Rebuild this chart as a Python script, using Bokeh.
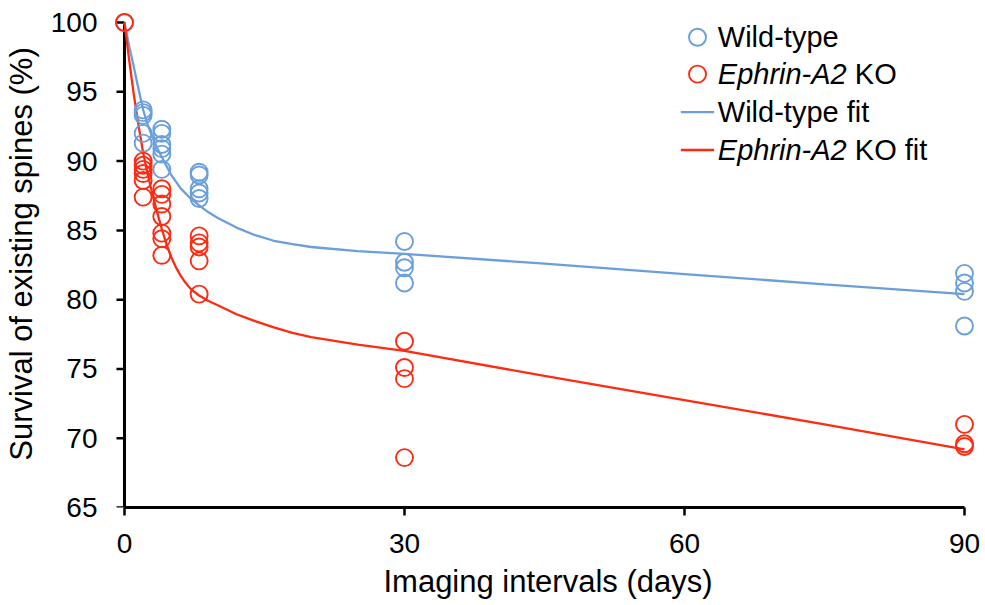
from bokeh.plotting import figure
from bokeh.models import Range1d, Label, FixedTicker
from bokeh.embed import file_html
from bokeh.resources import INLINE

# ---------------- data ----------------
wt_x = [0, 2, 2, 2, 2, 2, 4, 4, 4, 4, 4, 4, 8, 8, 8, 8, 8, 30, 30, 30, 30, 90, 90, 90, 90]
wt_y = [100, 93.7, 93.5, 93.3, 92.0, 91.3, 92.3, 92.0, 91.2, 90.9, 90.5, 89.4,
        89.2, 89.0, 88.0, 87.7, 87.3, 84.2, 82.7, 82.3, 81.2, 81.9, 81.2, 80.6, 78.1]

ko_x = [0, 2, 2, 2, 2, 2, 2, 4, 4, 4, 4, 4, 4, 4, 8, 8, 8, 8, 8, 30, 30, 30, 30, 90, 90, 90]
ko_y = [100, 90.0, 89.7, 89.4, 89.1, 88.6, 87.4, 88.0, 87.6, 86.9, 86.0, 84.8, 84.4, 83.2,
        84.6, 84.1, 83.8, 82.8, 80.4, 77.0, 75.1, 74.3, 68.6, 71.0, 69.6, 69.4]

# fitted curves
wt_fit_x = [0, 0.5, 1, 1.5, 2, 2.5, 3, 3.5, 4, 5, 6, 7, 8, 9, 10, 12, 14, 16, 18, 20, 25, 30, 45, 60, 75, 90]
wt_fit_y = [100, 98.3, 96.8, 95.2, 93.7, 92.6, 91.7, 90.95, 90.3, 89.0, 88.05, 87.35, 86.8, 86.3,
            85.9, 85.2, 84.65, 84.25, 84.0, 83.8, 83.5, 83.3, 82.6, 81.85, 81.1, 80.4]

ko_fit_x = [0, 0.5, 1, 1.5, 2, 2.5, 3, 3.5, 4, 4.5, 5, 5.5, 6, 6.5, 7, 7.5, 8, 9, 10, 12, 14, 16, 18, 20, 25, 30, 45, 60, 75, 90]
ko_fit_y = [100, 97.3, 94.8, 92.6, 90.6, 89.0, 87.6, 86.3, 85.1, 84.0, 83.1, 82.35, 81.75, 81.25, 80.85,
            80.55, 80.3, 79.9, 79.6, 78.95, 78.45, 78.0, 77.6, 77.3, 76.75, 76.3, 74.5, 72.75, 71.0, 69.2]

x_ticks = [0, 30, 60, 90]
y_ticks = [65, 70, 75, 80, 85, 90, 95, 100]
x_label = "Imaging intervals (days)"
y_label = "Survival of existing spines (%)"
legend_plain = ["Wild-type", "", "Wild-type fit", ""]
legend_italic = ["", "Ephrin-A2", "", "Ephrin-A2"]
legend_tail = ["", "KO", "", "KO fit"]

# ---------------- styling ----------------
BLUE = "#6a9fdb"
RED = "#ff2a12"
FONT = "Liberation Sans"
MSIZE = 17

X0, XS = 123.0, 841.0 / 90.0      # px of x=0, px per day
Y0, YS = 22.0, 485.0 / 35.0       # px of y=100, px per unit
FRAME_LEFT = 109.0


def dx(px):
    return (px - X0) / XS


def dy(py):
    return 100 - (py - Y0) / YS


p = figure(width=985, height=605, output_backend="svg", toolbar_location=None,
           x_range=Range1d(dx(FRAME_LEFT), 92.25), y_range=Range1d(65, 101.59),
           min_border_left=int(FRAME_LEFT), min_border_right=0, min_border_top=0,
           min_border_bottom=98)
p.outline_line_color = None
p.xgrid.visible = False
p.ygrid.visible = False
p.background_fill_color = "white"
p.border_fill_color = "white"

for ax in (p.xaxis[0], p.yaxis[0]):
    ax.axis_line_width = 3
    ax.axis_line_color = "black"
    ax.major_tick_line_width = 2.5
    ax.major_tick_line_color = "black"
    ax.major_tick_in = 0
    ax.major_tick_out = 8
    ax.minor_tick_line_color = None
    ax.major_label_text_font = FONT
    ax.major_label_text_font_size = "28px"
    ax.major_label_text_color = "black"
    ax.axis_label_text_font = FONT
    ax.axis_label_text_font_size = "31px"
    ax.axis_label_text_font_style = "normal"
    ax.axis_label_text_color = "black"

p.xaxis[0].ticker = FixedTicker(ticks=x_ticks)
p.xaxis[0].bounds = (0, 90)
p.xaxis[0].axis_label = x_label
p.xaxis[0].major_label_standoff = 18
p.xaxis[0].axis_label_standoff = 8

# y axis: labels from the real axis at the frame edge; line and ticks drawn at x = 0
yax = p.yaxis[0]
yax.ticker = FixedTicker(ticks=y_ticks)
yax.axis_line_color = None
yax.major_tick_line_color = None
yax.major_tick_out = 0
yax.axis_label = y_label
yax.major_label_standoff = 13
yax.axis_label_standoff = 9

p.segment(x0=[0], y0=[min(y_ticks)], x1=[0], y1=[max(y_ticks)],
          line_color="black", line_width=3)
p.segment(x0=[dx(X0 - 8)] * len(y_ticks), y0=y_ticks, x1=[0] * len(y_ticks), y1=y_ticks,
          line_color="black", line_width=2.5)

# fit lines
p.line(wt_fit_x, wt_fit_y, line_color=BLUE, line_width=2.3)
p.line(ko_fit_x, ko_fit_y, line_color=RED, line_width=2.3)

# data circles
p.scatter(wt_x, wt_y, marker="circle", size=MSIZE, fill_color=None,
          line_color=BLUE, line_width=1.9)
p.scatter(ko_x, ko_y, marker="circle", size=MSIZE, fill_color=None,
          line_color=RED, line_width=1.9)

# ---------------- manual legend (screen layout -> data coords) ----------------
row_py = [36.7, 73.6, 111.5, 149.5]
sym_px = 696.7
line_px = (680.0, 713.3)
text_px = 717.0

p.scatter([dx(sym_px)], [dy(row_py[0])], marker="circle", size=MSIZE, fill_color=None,
          line_color=BLUE, line_width=1.9)
p.scatter([dx(sym_px)], [dy(row_py[1])], marker="circle", size=MSIZE, fill_color=None,
          line_color=RED, line_width=1.9)
p.line([dx(line_px[0]), dx(line_px[1])], [dy(row_py[2])] * 2, line_color=BLUE, line_width=2.3)
p.line([dx(line_px[0]), dx(line_px[1])], [dy(row_py[3])] * 2, line_color=RED, line_width=2.3)

italic_w = 137  # px width of italic "Ephrin-A2 " at 29px
for i in range(4):
    if legend_plain[i]:
        p.add_layout(Label(x=dx(text_px), y=dy(row_py[i]), text=legend_plain[i],
                           text_font=FONT, text_font_size="29px", text_color="black",
                           text_baseline="middle", text_align="left"))
    if legend_italic[i]:
        p.add_layout(Label(x=dx(text_px), y=dy(row_py[i]), text=legend_italic[i],
                           text_font=FONT, text_font_size="29px", text_color="black",
                           text_font_style="italic",
                           text_baseline="middle", text_align="left"))
        p.add_layout(Label(x=dx(text_px), y=dy(row_py[i]), x_offset=italic_w,
                           text=legend_tail[i],
                           text_font=FONT, text_font_size="29px", text_color="black",
                           text_baseline="middle", text_align="left"))

open("out.html", "w").write(file_html(p, INLINE))
